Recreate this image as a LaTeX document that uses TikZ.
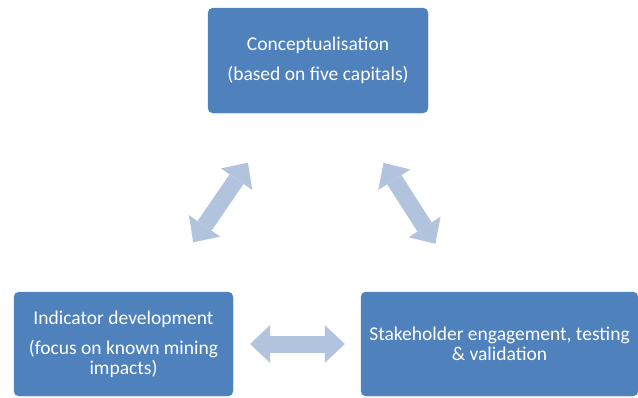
\documentclass[tikz,border=0pt]{standalone}
\usepackage{fontspec}
\setmainfont{Carlito}
\usepackage{tikz}
\usetikzlibrary{arrows.meta}
\definecolor{boxblue}{RGB}{79,129,189}
\definecolor{arrowblue}{RGB}{178,195,222}
\tikzset{
  stage/.style={rectangle, fill=boxblue, draw=boxblue, rounded corners=5pt, align=center,
    text=white, font=\fontsize{19.5}{20}\selectfont, inner sep=0pt},
  twoway/.style={draw=arrowblue, line width=17pt,
    {Triangle[width=38pt, length=20pt, line width=0pt]}-{Triangle[width=38pt, length=20pt, line width=0pt]}}
}

\begin{document}
\begin{tikzpicture}[x=1pt, y=-1pt]
\useasboundingbox (0,0) rectangle (638,397);
% the three stages of the cycle
\node[stage, minimum width=220pt, minimum height=105pt] (concept) at (318,60.5)
  {Conceptualisation\\[10pt](based on five capitals)};
\node[stage, minimum width=219pt, minimum height=104pt] (indicator) at (123.5,344)
  {Indicator development\\[10pt](focus on known mining\\impacts)};
\node[stage, minimum width=277pt, minimum height=104pt] (stake) at (499.5,344)
  {Stakeholder engagement, testing\\\& validation};
% block arrows between them
\draw[twoway, shorten <=60pt, shorten >=60pt] (concept) -- (indicator);
\draw[twoway, shorten <=59pt, shorten >=57pt] (concept) -- (stake);
\draw[twoway, shorten <=17pt, shorten >=16pt] (indicator) -- (stake);
\end{tikzpicture}
\end{document}
